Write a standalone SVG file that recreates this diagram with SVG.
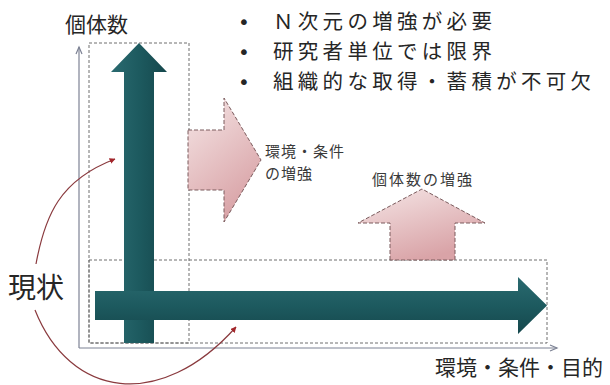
<svg xmlns="http://www.w3.org/2000/svg" width="610" height="385" viewBox="0 0 610 385">
  <defs>
    <style>
      .txt { font-family: "Noto Sans CJK JP", "Noto Sans", sans-serif; fill: #262626; }
      .big { font-size: 20.5px; letter-spacing: 4.3px; }
      .dot { font-family: "DejaVu Sans", sans-serif; font-size: 20px; fill: #262626; }
      .small { font-size: 15px; fill: #3a3a3a; }
      .box { fill: none; stroke: #6f6f6f; stroke-width: 1; stroke-dasharray: 3 2; }
      .axis { fill: none; stroke: #7d8294; stroke-width: 1.2; }
      .pink { stroke: #7a5a5c; stroke-width: 1; stroke-dasharray: 4 2; }
      .curve { fill: none; stroke: #8a3a3e; stroke-width: 1.2; }
    </style>
    <linearGradient id="tealV" x1="0" y1="0" x2="1" y2="0">
      <stop offset="0" stop-color="#2a6a70"/>
      <stop offset="0.5" stop-color="#1d5a5f"/>
      <stop offset="1" stop-color="#15474c"/>
    </linearGradient>
    <linearGradient id="tealH" x1="0" y1="0" x2="0" y2="1">
      <stop offset="0" stop-color="#2a6a70"/>
      <stop offset="0.5" stop-color="#1d5a5f"/>
      <stop offset="1" stop-color="#15474c"/>
    </linearGradient>
    <linearGradient id="pinkG" x1="0" y1="0" x2="0.5" y2="1">
      <stop offset="0" stop-color="#f5e6e6"/>
      <stop offset="1" stop-color="#d9a3a7"/>
    </linearGradient>
    <marker id="redHead" viewBox="0 0 10 10" refX="9" refY="5" markerWidth="6" markerHeight="6" markerUnits="userSpaceOnUse" orient="auto">
      <path d="M0,0 L10,5 L0,10 Z" fill="#a3262b"/>
    </marker>
  </defs>
  <rect width="610" height="385" fill="#ffffff"/>

  <g id="axes">
    <line class="axis" x1="79" y1="348" x2="79" y2="47"/>
    <polyline class="axis" points="76,54 79,47 82,54"/>
    <line class="axis" x1="79" y1="348" x2="557" y2="348"/>
    <polyline class="axis" points="550,345 557,348 550,351"/>
  </g>

  <g id="box-vertical">
    <rect class="box" x="89" y="43" width="100" height="300"/>
  </g>
  <g id="box-horizontal">
    <rect class="box" x="89" y="260" width="458" height="83"/>
  </g>

  <g id="arrow-vertical">
    <path d="M124,343 L124,72 L111,72 L139,43 L167,72 L154,72 L154,343 Z" fill="url(#tealV)"/>
  </g>
  <g id="arrow-horizontal">
    <path d="M95,291 L518,291 L518,277 L547,305.5 L518,334 L518,320 L95,320 Z" fill="url(#tealH)"/>
  </g>

  <g id="arrow-env">
    <path class="pink" d="M188,130 L224,130 L224,98 L261,160 L224,222 L224,190 L188,190 Z" fill="url(#pinkG)"/>
    <text class="txt small" x="265" y="157" style="letter-spacing:1px">環境・条件</text>
    <text class="txt small" x="265" y="179" style="letter-spacing:1px">の増強</text>
  </g>

  <g id="arrow-count">
    <path class="pink" d="M390,260 L390,223 L358,223 L422,189 L485,223 L455,223 L455,260 Z" fill="url(#pinkG)"/>
    <text class="txt small" x="372" y="185" style="letter-spacing:2px">個体数の増強</text>
  </g>

  <g id="connectors">
    <path class="curve" d="M36,264 C45,215 60,180 115,159" marker-end="url(#redHead)"/>
    <path class="curve" d="M35,310 C70,398 160,412 236,327" marker-end="url(#redHead)"/>
  </g>

  <g id="label-y">
    <text class="txt" x="65" y="32" font-size="21">個体数</text>
  </g>
  <g id="label-x">
    <text class="txt" x="435" y="375" font-size="21">環境・条件・目的</text>
  </g>
  <g id="label-current">
    <text class="txt" x="8" y="298" font-size="28">現状</text>
  </g>

  <g id="bullets">
    <text class="dot" x="238" y="29">•</text>
    <text class="txt big" x="273" y="29">Ｎ次元の増強が必要</text>
    <text class="dot" x="238" y="59">•</text>
    <text class="txt big" x="273" y="59">研究者単位では限界</text>
    <text class="dot" x="238" y="89">•</text>
    <text class="txt big" x="273" y="89">組織的な取得・蓄積が不可欠</text>
  </g>
</svg>
